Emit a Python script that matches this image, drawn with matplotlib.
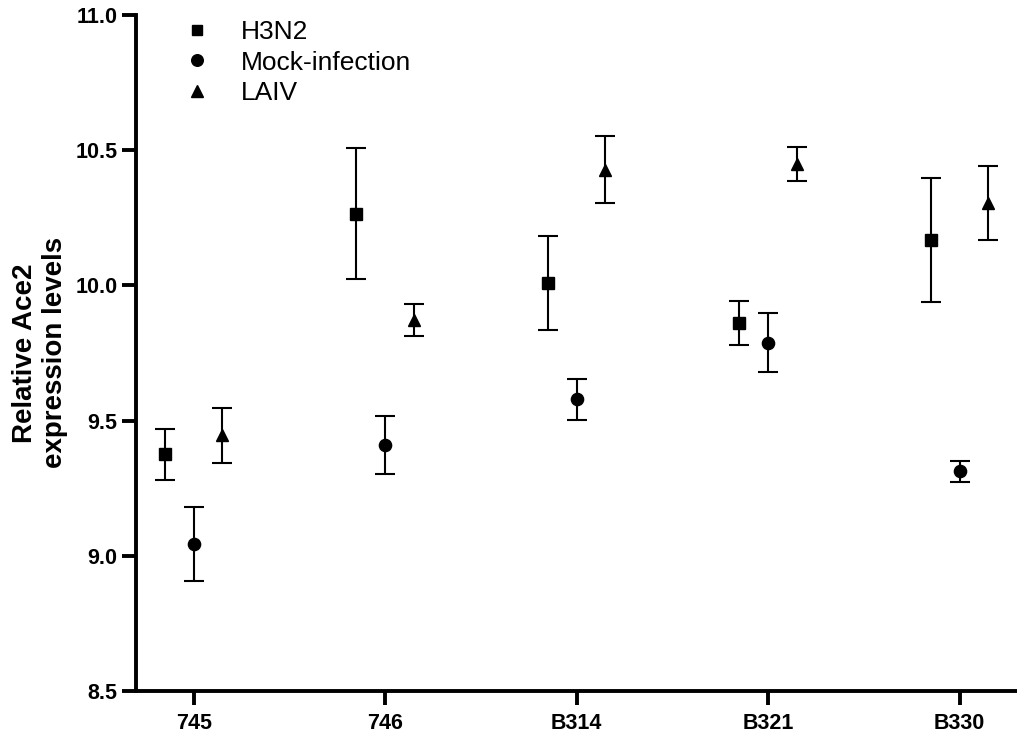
import numpy as np
import matplotlib.pyplot as plt
from matplotlib.lines import Line2D

plt.rcParams['font.family'] = ['Liberation Sans', 'DejaVu Sans']

# data
groups = ['745', '746', 'B314', 'B321', 'B330']
h3n2_mean = [9.375, 10.265, 10.009, 9.860, 10.167]
h3n2_err = [0.095, 0.242, 0.173, 0.082, 0.230]
mock_mean = [9.043, 9.410, 9.578, 9.788, 9.312]
mock_err = [0.138, 0.108, 0.076, 0.110, 0.040]
laiv_mean = [9.445, 9.872, 10.428, 10.449, 10.304]
laiv_err = [0.103, 0.060, 0.123, 0.063, 0.138]

series = [
    ('H3N2', h3n2_mean, h3n2_err, 's', -0.15, 8),
    ('Mock-infection', mock_mean, mock_err, 'o', 0.0, 8.8),
    ('LAIV', laiv_mean, laiv_err, '^', 0.15, 8.8),
]

fig = plt.figure(figsize=(10.17, 7.43), dpi=100)
ax = fig.add_axes([0.134, 0.070, 0.866, 0.910])

x = np.arange(len(groups))
handles = []
for name, mean, err, marker, offset, ms in series:
    ax.errorbar(x + offset, mean, yerr=err, fmt=marker, color='black',
                markersize=ms, ecolor='black', elinewidth=1.5, capsize=7.5,
                capthick=1.5)
    handles.append(Line2D([], [], linestyle='none', marker=marker,
                          color='black', markersize=ms * 0.95, label=name))

ax.set_xlim(-0.3, 4.3)
ax.set_ylim(8.5, 11.0)
ticks = np.arange(8.5, 11.01, 0.5)
ax.set_yticks(ticks)
ax.set_yticklabels([f'{v:.1f}' for v in ticks])
ax.set_xticks(x)
ax.set_xticklabels(groups)

for s in ['top', 'right']:
    ax.spines[s].set_visible(False)
for s in ['left', 'bottom']:
    ax.spines[s].set_linewidth(2.8)

ax.tick_params(axis='both', width=2.8, length=10, labelsize=15.5)
ax.tick_params(axis='y', pad=3.5)
ax.tick_params(axis='x', pad=6)
for lbl in ax.get_xticklabels() + ax.get_yticklabels():
    lbl.set_fontweight('bold')

ax.set_ylabel('Relative Ace2\nexpression levels', fontsize=20,
              fontweight='bold', labelpad=5)

ax.legend(handles=handles, loc='upper left', bbox_to_anchor=(0.181, 0.973),
          bbox_transform=fig.transFigure, borderaxespad=0, borderpad=0,
          frameon=False, fontsize=19, handletextpad=1.17, labelspacing=0.25,
          handlelength=1.0)

plt.savefig('out.png', dpi=100)
